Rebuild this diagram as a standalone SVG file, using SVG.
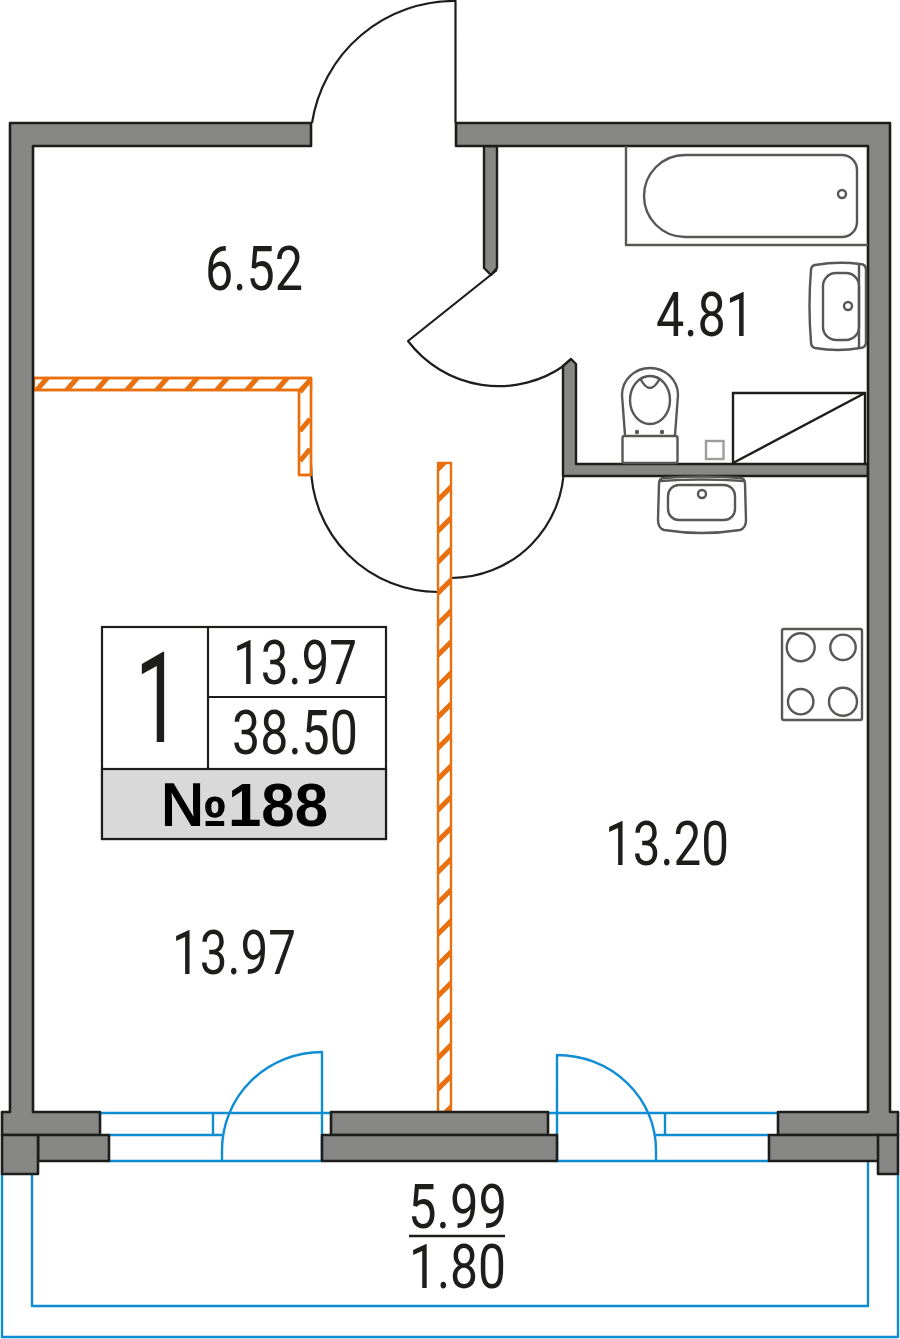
<svg xmlns="http://www.w3.org/2000/svg" width="900" height="1339" viewBox="0 0 900 1339">
<style>
.wall{fill:#878786;stroke:#1d1d1b;stroke-width:2.6;stroke-linejoin:round}
.iw{fill:#878786;stroke:#1d1d1b;stroke-width:2.4;stroke-linejoin:round}
.door{fill:none;stroke:#1d1d1b;stroke-width:2.2;stroke-linejoin:round}
.blue{fill:none;stroke:#0f8dd3;stroke-width:2.4;stroke-linejoin:round}
.fix{fill:none;stroke:#575756;stroke-width:2.4;stroke-linejoin:round}
.org{stroke:#e8700f;stroke-width:2.4;stroke-linejoin:round}
.hatch{stroke:#e8700f;stroke-width:5;fill:none}
text{font-family:Roboto,"Liberation Sans",Arial,sans-serif;fill:#1d1d1b;font-size:62px}
</style>
<defs>
<pattern id="hv" patternUnits="userSpaceOnUse" x="438" y="463" width="13" height="31">
<rect width="13" height="31" fill="#fff"/>
<path class="hatch" d="M-1 38L14 23M-1 7L14 -8"/>
</pattern>
<pattern id="hh" patternUnits="userSpaceOnUse" x="34" y="378" width="30" height="12">
<rect width="30" height="12" fill="#fff"/>
<path class="hatch" d="M2 13L14 -1"/>
</pattern>
</defs>
<rect width="900" height="1339" fill="#fff"/>
<g id="balcony">
<path class="blue" d="M2 1174V1337H898V1174"/>
<path class="blue" d="M32 1174V1306H868V1161"/>
<path class="blue" d="M100 1113H331M109 1135H222M213 1113V1135M109 1161H322"/>
<path class="blue" d="M222 1161V1150A100 98 0 0 1 322 1052V1161"/>
<path class="blue" d="M548 1113H778M656 1135H769M665 1113V1135M557 1161H769"/>
<path class="blue" d="M557 1161V1055A99 95 0 0 1 656 1150V1161"/>
</g>
<g id="doors">
<path class="door" d="M312 123A144 144 0 0 1 455.500 1V123"/>
<path class="door" d="M497 270L408 341A114 114 0 0 0 565 365"/>
<path class="door" d="M311 465A127 127 0 0 0 438 592"/>
<path class="door" d="M451 578A113 113 0 0 0 564 465"/>
</g>
<g id="partitions">
<path fill="url(#hh)" class="org" d="M34 378H311V390H34Z"/>
<path fill="#fff" class="org" d="M299 390V475H311V378Z"/>
<path class="hatch" d="M300 392L310 380M300 431L310 419M300 461L310 449"/>
<path class="org" fill="none" d="M34 378H311V475H299V390H34"/>
<path fill="url(#hv)" class="org" d="M438 463H451V1112H438Z"/>
</g>
<g id="walls">
<path class="iw" d="M484 146H497V268L491 275L484 268Z"/>
<path class="iw" d="M563 366L571 359L576 364V464H868V476H563Z"/>
<path class="wall" d="M311 123H10V1112H2V1135H100V1112H33V146H311Z"/>
<path class="wall" d="M456 123H890V1112H898V1135H778V1112H868V146H456Z"/>
<rect class="wall" x="331" y="1112" width="217" height="23"/>
<rect class="wall" x="38" y="1135" width="71" height="26"/>
<rect class="wall" x="322" y="1135" width="235" height="26"/>
<rect class="wall" x="769" y="1135" width="110" height="26"/>
<rect class="wall" x="2" y="1135" width="36" height="39"/>
<rect class="wall" x="878" y="1135" width="20" height="39"/>
</g>
<g id="bath">
<path class="fix" d="M626 146V245H868"/>
<path class="fix" d="M685 155H842A15 15 0 0 1 857 170V222A15 15 0 0 1 842 237H685A41 41 0 0 1 685 155Z"/>
<circle class="fix" cx="842" cy="194" r="4"/>
</g>
<g id="sink-right">
<path class="fix" d="M815 265Q838 261 860 264Q866 264 866 270V342Q866 348 860 348Q838 352 815 348Q811 347 811 342Q808 306 811 270Q811 266 815 265Z"/>
<rect class="fix" x="823" y="273" width="36" height="67" rx="13"/>
<path class="fix" d="M859 264V348"/>
<circle class="fix" cx="848" cy="306" r="4"/>
</g>
<g id="toilet">
<path class="fix" d="M625 435L622 395A28 27 0 0 1 678 395L675 435"/>
<rect class="fix" x="622.500" y="436" width="55" height="27" rx="2"/>
<ellipse class="fix" cx="650" cy="400" rx="20" ry="24"/>
<path class="fix" d="M640 378Q650 398 660 378"/>
<circle cx="637" cy="432" r="2.200" fill="#575756"/>
<circle cx="662" cy="432" r="2.200" fill="#575756"/>
</g>
<rect id="drain" x="706" y="441" width="17.500" height="18" fill="none" stroke="#9d9d9c" stroke-width="2.400"/>
<g id="shower">
<path fill="none" stroke="#1d1d1b" stroke-width="2.400" d="M733 463V393H865V463M733 463L865 393"/>
</g>
<g id="sink-kitchen">
<path class="fix" d="M664 478Q702 475 740 478Q745 478 745 484L746 520Q746 528 740 530Q702 536 664 530Q658 528 658 520L659 484Q659 478 664 478Z"/>
<rect class="fix" x="668" y="485" width="67" height="35" rx="11"/>
<path class="fix" d="M660 481Q702 478 744 481"/>
<circle class="fix" cx="702" cy="494" r="4"/>
</g>
<g id="stove">
<rect class="fix" x="782" y="629" width="80" height="91" rx="2"/>
<circle class="fix" cx="800.700" cy="647.300" r="14"/>
<circle class="fix" cx="843" cy="647.300" r="12.700"/>
<circle class="fix" cx="800.700" cy="701.700" r="12.700"/>
<circle class="fix" cx="843" cy="701.700" r="14"/>
</g>
<g id="info">
<rect x="102" y="627" width="284" height="212" fill="#fff" stroke="#1d1d1b" stroke-width="2.200"/>
<rect x="102" y="769" width="284" height="70" fill="#d9d9d9" stroke="#1d1d1b" stroke-width="2.200"/>
<path fill="none" stroke="#1d1d1b" stroke-width="2.200" d="M208 627V769M208 697H386"/>
<text x="158" y="742" text-anchor="middle" style="font-size:127px" textLength="46" lengthAdjust="spacingAndGlyphs">1</text>
<text x="233" y="684" textLength="124" lengthAdjust="spacingAndGlyphs">13.97</text>
<text x="232" y="754" textLength="126" lengthAdjust="spacingAndGlyphs">38.50</text>
<text x="161" y="826" textLength="167" lengthAdjust="spacingAndGlyphs" style="font-family:'Liberation Sans',Arial,sans-serif;font-size:62px;font-weight:700;fill:#000">№188</text>
</g>
<g id="labels">
<text x="205" y="290" textLength="98" lengthAdjust="spacingAndGlyphs">6.52</text>
<text x="656" y="336" textLength="98" lengthAdjust="spacingAndGlyphs">4.81</text>
<text x="605" y="865" textLength="124" lengthAdjust="spacingAndGlyphs">13.20</text>
<text x="172" y="974" textLength="124" lengthAdjust="spacingAndGlyphs">13.97</text>
<text x="408" y="1228" textLength="99" lengthAdjust="spacingAndGlyphs">5.99</text>
<text x="409" y="1288" textLength="97" lengthAdjust="spacingAndGlyphs">1.80</text>
<path d="M409 1236H505" stroke="#1d1d1b" stroke-width="2.400" fill="none"/>
</g>
</svg>
